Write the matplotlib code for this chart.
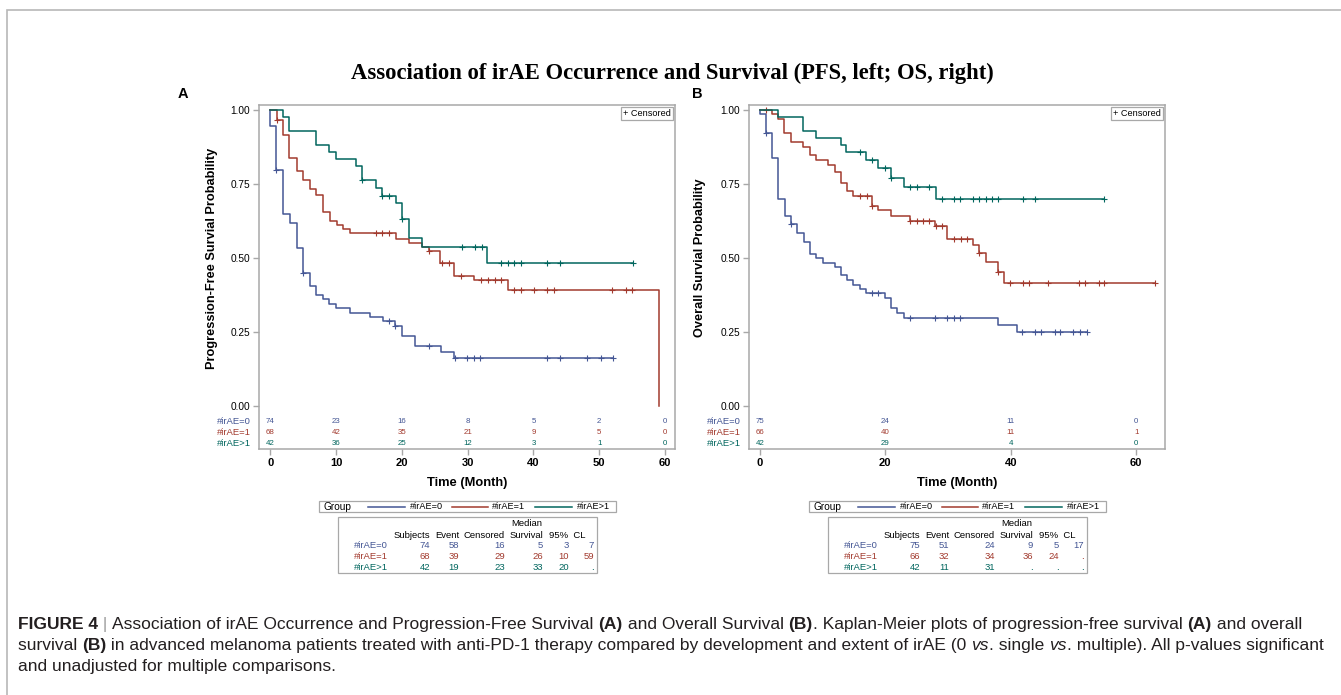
import numpy as np
import matplotlib
matplotlib.use("Agg")
import matplotlib.pyplot as plt
import matplotlib.transforms as mtrans
from matplotlib import font_manager
from matplotlib.lines import Line2D
from matplotlib.patches import Rectangle

# ---- data ----
groups = ["#irAE=0", "#irAE=1", "#irAE>1"]
colors = ["#445694", "#A23A2E", "#01665E"]

# PFS (panel A): step times, survival after each step, censor times, last follow-up
pfs_t0 = [0.0, 0.9, 2.0, 3.0, 4.0, 5.0, 6.0, 7.0, 8.0, 9.0, 10.0, 12.1, 15.1, 17.1, 19.0, 20.0, 22.0, 26.0, 27.9]
pfs_s0 = [0.946, 0.797, 0.648, 0.62, 0.535, 0.448, 0.405, 0.375, 0.36, 0.345, 0.33, 0.315, 0.302, 0.286, 0.27, 0.236, 0.204, 0.183, 0.164]
pfs_c0 = [0.9, 5.0, 18.0, 19.0, 24.1, 28.1, 29.9, 30.9, 31.9, 42.1, 44.1, 48.2, 50.2, 52.1]
pfs_end0 = 52.1

pfs_t1 = [1.0, 2.0, 2.9, 4.0, 5.0, 6.0, 7.0, 8.0, 9.1, 10.1, 11.1, 12.1, 19.1, 21.1, 23.1, 24.1, 25.8, 28.0, 31.0, 36.1, 59.0]
pfs_s1 = [0.968, 0.916, 0.837, 0.795, 0.764, 0.732, 0.713, 0.656, 0.626, 0.611, 0.597, 0.583, 0.566, 0.552, 0.538, 0.523, 0.482, 0.44, 0.426, 0.392, 0.0]
pfs_c1 = [1.0, 16.0, 17.0, 18.0, 24.1, 26.1, 27.1, 29.0, 32.1, 33.1, 34.1, 35.1, 37.1, 38.1, 40.1, 42.1, 43.1, 52.0, 54.0, 55.0]
pfs_end1 = 59.0

pfs_t2 = [1.9, 2.9, 7.0, 9.0, 10.0, 13.0, 13.9, 16.0, 17.0, 19.1, 20.1, 21.1, 23.1, 33.0]
pfs_s2 = [0.976, 0.929, 0.881, 0.857, 0.833, 0.81, 0.762, 0.738, 0.71, 0.685, 0.631, 0.568, 0.538, 0.484]
pfs_c2 = [13.9, 17.0, 18.0, 20.1, 29.1, 31.1, 32.2, 35.0, 36.1, 37.1, 38.1, 42.1, 44.1, 55.1]
pfs_end2 = 55.1

# OS (panel B)
os_t0 = [0.0, 0.96, 1.86, 2.9, 4.0, 4.95, 5.96, 6.95, 7.95, 8.9, 10.0, 12.0, 13.0, 13.9, 14.9, 16.0, 16.9, 19.9, 20.9, 21.9, 22.9, 37.9, 41.0]
os_s0 = [0.987, 0.921, 0.838, 0.70, 0.643, 0.615, 0.586, 0.555, 0.513, 0.499, 0.484, 0.471, 0.442, 0.427, 0.409, 0.396, 0.383, 0.364, 0.33, 0.315, 0.298, 0.273, 0.249]
os_c0 = [0.96, 4.95, 17.8, 18.9, 23.9, 27.9, 29.9, 30.9, 31.9, 41.8, 43.9, 44.9, 47.0, 47.9, 50.0, 51.1, 52.1]
os_end0 = 52.1

os_t1 = [1.9, 2.9, 3.9, 4.9, 6.9, 8.0, 8.9, 10.9, 12.0, 12.9, 13.9, 14.9, 17.9, 18.9, 20.9, 23.9, 27.9, 29.9, 33.9, 34.9, 36.0, 38.0, 39.0]
os_s1 = [0.985, 0.969, 0.923, 0.893, 0.876, 0.848, 0.831, 0.814, 0.79, 0.755, 0.725, 0.708, 0.677, 0.662, 0.642, 0.626, 0.609, 0.564, 0.544, 0.518, 0.488, 0.453, 0.416]
os_c1 = [0.96, 16.0, 17.0, 17.9, 24.0, 25.0, 26.0, 27.0, 28.1, 29.0, 31.0, 32.0, 33.0, 34.9, 38.0, 39.9, 41.9, 42.9, 46.0, 50.9, 51.9, 54.0, 54.9, 63.0]
os_end1 = 63.0

os_t2 = [2.9, 6.9, 8.9, 12.9, 13.8, 16.9, 18.9, 20.9, 23.0, 28.0]
os_s2 = [0.976, 0.929, 0.905, 0.881, 0.857, 0.831, 0.803, 0.772, 0.741, 0.70]
os_c2 = [16.0, 17.9, 20.0, 20.9, 24.0, 25.0, 27.0, 29.0, 31.0, 31.9, 33.9, 34.9, 36.0, 37.0, 37.9, 41.9, 43.9, 54.9]
os_end2 = 54.9

# numbers at risk
pfs_risk_times = [0, 10, 20, 30, 40, 50, 60]
pfs_risk = [[74, 23, 16, 8, 5, 2, 0],
            [68, 42, 35, 21, 9, 5, 0],
            [42, 36, 25, 12, 3, 1, 0]]
os_risk_times = [0, 20, 40, 60]
os_risk = [[75, 24, 11, 0],
           [66, 40, 11, 1],
           [42, 29, 4, 0]]

# summary tables: Subjects, Event, Censored, Median, 95% CL low, high
pfs_table = [["74", "58", "16", "5", "3", "7"],
             ["68", "39", "29", "26", "10", "59"],
             ["42", "19", "23", "33", "20", "."]]
os_table = [["75", "51", "24", "9", "5", "17"],
            ["66", "32", "34", "36", "24", "."],
            ["42", "11", "31", ".", ".", "."]]

title = "Association of irAE Occurrence and Survival (PFS, left; OS, right)"
caption = [
    [("FIGURE 4", "b"), (" | ", "g"), ("Association of irAE Occurrence and Progression-Free Survival ", ""),
     ("(A)", "b"), (" and Overall Survival ", ""), ("(B)", "b"),
     (". Kaplan-Meier plots of progression-free survival ", ""), ("(A)", "b"), (" and overall", "")],
    [("survival ", ""), ("(B)", "b"), (" in advanced melanoma patients treated with anti-PD-1 therapy compared by development and extent of irAE (0 ", ""),
     ("vs", "i"), (". single ", ""), ("vs", "i"), (". multiple). All p-values significant", "")],
    [("and unadjusted for multiple comparisons.", "")],
]

# ---- figure ----
W, H = 1341, 695
plt.rcParams["font.family"] = ["Liberation Sans", "DejaVu Sans"]
fig = plt.figure(figsize=(W / 100, H / 100), dpi=100)
fig.patch.set_facecolor("white")


def fx(x):
    return x / W


def fy(y):
    return 1 - y / H


frame_c = "#a8a8a8"
fig.patches.append(Rectangle((fx(7), fy(H + 20)), 2, fy(10) - fy(H + 20), transform=fig.transFigure,
                             fill=False, edgecolor="#b8b8b8", lw=1.2))


def km_line(ax, times, surv, cens, end, color):
    times = np.asarray(times)
    surv = np.asarray(surv)
    x = np.r_[0.0, times, end]
    y = np.r_[1.0, surv, surv[-1]]
    ax.step(x, y, where="post", color=color, lw=1.1)
    cens = np.asarray(cens)
    idx = np.searchsorted(times, cens, side="right") - 1
    cy = np.where(idx >= 0, surv[idx.clip(0)], 1.0)
    ax.plot(cens, cy, "+", color=color, ms=5, mew=0.8)


def panel(dx, curves, risk_t, risk, table, xticks, xlim, ylabel, ylab_x, letter, letter_x):
    ax = fig.add_axes([fx(259 + dx), fy(449), fx(416), fy(105) - fy(449)])
    for (t, s, c, e), col in zip(curves, colors):
        km_line(ax, t, s, c, e, col)
    ax.set_xlim(*xlim)
    ax.set_ylim(-0.145, 1.017)
    ax.set_yticks([0, 0.25, 0.5, 0.75, 1.0])
    ax.set_yticklabels(["0.00", "0.25", "0.50", "0.75", "1.00"], fontsize=7.3)
    ax.set_xticks(xticks)
    ax.set_xticklabels([str(v) for v in xticks], fontsize=8, fontweight="bold")
    ax.tick_params(length=4, width=1, color=frame_c, pad=2.5)
    for sp in ax.spines.values():
        sp.set_color(frame_c)
        sp.set_linewidth(1.1)

    bl = mtrans.blended_transform_factory(ax.transAxes, ax.transData)
    rows_y = [-0.053, -0.089, -0.126]
    for g, col, ry, nums in zip(groups, colors, rows_y, risk):
        ax.text(-8 / 416, ry, g, transform=bl, ha="right", va="center", fontsize=6.8, color=col)
        for t, n in zip(risk_t, nums):
            ax.text(t, ry, str(n), ha="center", va="center", fontsize=5.7, color=col)

    ax.text(ylab_x, 0.5, ylabel, transform=bl, rotation=90, ha="center", va="center",
            fontsize=9.2, fontweight="bold")
    ax.text(0.5, -0.099, "Time (Month)", transform=ax.transAxes, ha="center", va="center",
            fontsize=9.3, fontweight="bold")
    ax.text(0.99, 0.988, "+ Censored", transform=ax.transAxes, ha="right", va="top", fontsize=6.6,
            bbox=dict(boxstyle="square,pad=0.2", fc="white", ec=frame_c, lw=0.9))
    fig.text(fx(letter_x), fy(94), letter, ha="center", va="center", fontsize=10.5, fontweight="bold")

    # group legend
    fig.patches.append(Rectangle((fx(319 + dx), fy(512)), fx(297), fy(501) - fy(512),
                                 transform=fig.transFigure, fill=False, ec=frame_c, lw=0.9))
    fig.text(fx(323 + dx), fy(506.5), "Group", ha="left", va="center", fontsize=7.3)
    for (x0, x1, xt), g, col in zip([(368, 405, 410), (452, 488, 492), (535, 572, 577)], groups, colors):
        fig.lines.append(Line2D([fx(x0 + dx), fx(x1 + dx)], [fy(506.5), fy(506.5)],
                                transform=fig.transFigure, color=col, lw=1.1))
        fig.text(fx(xt + dx), fy(506.5), g, ha="left", va="center", fontsize=6.6)

    # summary table
    bx = 338 + dx
    fig.patches.append(Rectangle((fx(bx), fy(573)), fx(259), fy(517) - fy(573),
                                 transform=fig.transFigure, fill=False, ec=frame_c, lw=0.9))
    fs = 6.8
    fig.text(fx(bx + 189), fy(524), "Median", ha="center", va="center", fontsize=fs)
    col_right = [92, 121, 167, 205, 231, 256]
    for txt, r in zip(["Subjects", "Event", "Censored", "Survival"], col_right[:4]):
        fig.text(fx(bx + r), fy(535), txt, ha="right", va="center", fontsize=fs)
    fig.text(fx(bx + 229), fy(535), "95%  CL", ha="center", va="center", fontsize=fs)
    for g, col, ry, vals in zip(groups, colors, [545.5, 556.5, 567.5], table):
        fig.text(fx(bx + 16), fy(ry), g, ha="left", va="center", fontsize=fs, color=col)
        for v, r in zip(vals, col_right):
            fig.text(fx(bx + r), fy(ry), v, ha="right", va="center", fontsize=fs, color=col)
    return ax


pfs_curves = [(pfs_t0, pfs_s0, pfs_c0, pfs_end0), (pfs_t1, pfs_s1, pfs_c1, pfs_end1), (pfs_t2, pfs_s2, pfs_c2, pfs_end2)]
os_curves = [(os_t0, os_s0, os_c0, os_end0), (os_t1, os_s1, os_c1, os_end1), (os_t2, os_s2, os_c2, os_end2)]

panel(0, pfs_curves, pfs_risk_times, pfs_risk, pfs_table, [0, 10, 20, 30, 40, 50, 60], (-1.7, 61.5),
      "Progression-Free Survial Probability", -0.113, "A", 183)
panel(490, os_curves, os_risk_times, os_risk, os_table, [0, 20, 40, 60], (-1.75, 64.6),
      "Overall Survial Probability", -0.118, "B", 697)

renderer = fig.canvas.get_renderer()

# title, sized to the reference width
tt = fig.text(fx(672), fy(73), title, ha="center", va="center", fontsize=13,
              fontweight="bold", family=["Liberation Serif", "DejaVu Serif"])
w = tt.get_window_extent(renderer).width
tt.set_fontsize(13 * 640 / w)

# caption
names = {f.name for f in font_manager.fontManager.ttflist}
cap_font = "Liberation Sans Narrow" if "Liberation Sans Narrow" in names else "Liberation Sans"


def draw_caption_line(segs, x0, y, size):
    x = x0
    out = []
    for s, st in segs:
        t = fig.text(fx(x), fy(y), s, ha="left", va="baseline", fontsize=size,
                     family=[cap_font, "DejaVu Sans"],
                     fontweight="bold" if st == "b" else "normal",
                     style="italic" if st == "i" else "normal",
                     color="#9a9a9a" if st == "g" else "#231f20")
        x += t.get_window_extent(renderer).width
        out.append(t)
    return out, x - x0


probe, width = draw_caption_line(caption[0], 18, 629, 10)
for t in probe:
    t.remove()
cap_size = 10 * 1288 / width
for segs, y in zip(caption, [629, 650, 671]):
    draw_caption_line(segs, 18, y, cap_size)

fig.savefig("out.png", dpi=100, facecolor="white")
